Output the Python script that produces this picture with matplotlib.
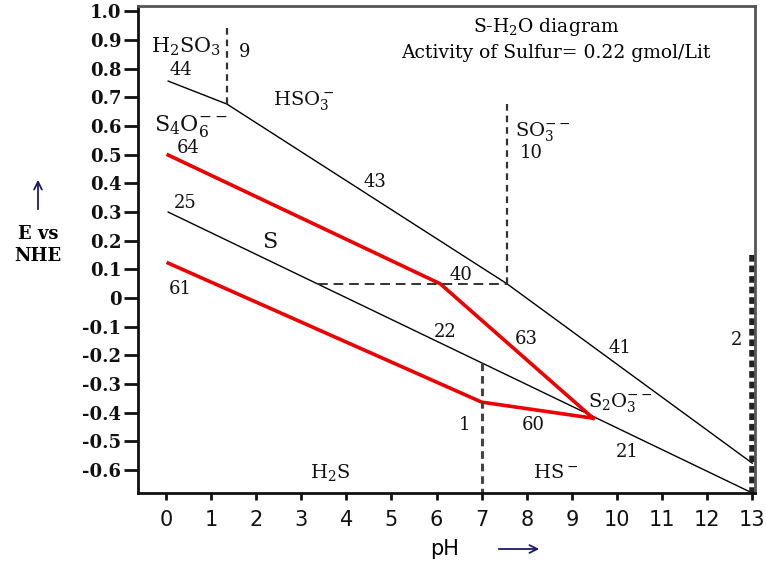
import matplotlib
matplotlib.use("Agg")
import matplotlib.pyplot as plt
import numpy as np

plt.rcParams['mathtext.fontset'] = 'dejavuserif'

# ---- data (pH, E vs NHE) ----
upper_ph = [0.05, 1.35, 7.56, 13.0]          # lines 44 / 43 / 41
upper_e = [0.757, 0.677, 0.05, -0.576]
s_ph = [0.05, 13.0]                          # lines 25 / 22 / 21
s_e = [0.30, -0.68]
red_top_ph = [0.05, 6.08, 9.47]              # lines 64 / 63
red_top_e = [0.499, 0.05, -0.419]
red_bot_ph = [0.05, 7.0, 9.47]               # lines 61 / 60
red_bot_e = [0.122, -0.363, -0.419]

v9_ph = [1.35, 1.35];   v9_e = [0.677, 0.956]
v10_ph = [7.56, 7.56];  v10_e = [0.05, 0.68]
h40_ph = [3.37, 7.56];  h40_e = [0.05, 0.05]
v1_ph = [7.0, 7.0];     v1_e = [-0.227, -0.68]
v2_ph = [13.0, 13.0];   v2_e = [0.15, -0.68]

xticks = list(range(0, 14))
yticks = [1.0, 0.9, 0.8, 0.7, 0.6, 0.5, 0.4, 0.3, 0.2, 0.1, 0.0,
          -0.1, -0.2, -0.3, -0.4, -0.5, -0.6]
ytick_labels = ["1.0", "0.9", "0.8", "0.7", "0.6", "0.5", "0.4", "0.3", "0.2",
                "0.1", "0", "-0.1", "-0.2", "-0.3", "-0.4", "-0.5", "-0.6"]

labels = [
    (r"H$_2$SO$_3$", 0.44, 0.876, 15),
    ("44", 0.33, 0.795, 13),
    ("9", 1.75, 0.858, 13),
    (r"HSO$_3^-$", 3.04, 0.69, 14),
    (r"S$_4$O$_6^{--}$", 0.55, 0.60, 16),
    ("64", 0.49, 0.523, 13),
    ("43", 4.63, 0.405, 13),
    (r"SO$_3^{--}$", 8.36, 0.58, 14),
    ("10", 8.09, 0.506, 13),
    ("25", 0.42, 0.33, 13),
    ("S", 2.3, 0.195, 16),
    ("40", 6.54, 0.08, 13),
    ("61", 0.31, 0.03, 13),
    ("22", 6.19, -0.12, 13),
    ("63", 7.98, -0.143, 13),
    ("41", 10.07, -0.175, 13),
    ("2", 12.66, -0.147, 13),
    (r"S$_2$O$_3^{--}$", 10.07, -0.366, 14),
    ("1", 6.63, -0.443, 13),
    ("60", 8.14, -0.443, 13),
    ("21", 10.22, -0.537, 13),
    (r"H$_2$S", 3.64, -0.61, 14),
    (r"HS$^-$", 8.63, -0.61, 14),
]

serif = "DejaVu Serif"

fig = plt.figure(figsize=(7.66, 5.62), dpi=100)
ax = fig.add_axes([138 / 766, 1 - 493 / 562, (755 - 138) / 766, (493 - 6) / 562])
ax.set_xlim(-0.62, 13.06)
ax.set_ylim(-0.68, 1.019)

ax.plot(upper_ph, upper_e, color="black", lw=1.0)
ax.plot(s_ph, s_e, color="black", lw=1.0)
ax.plot(red_top_ph, red_top_e, color="#ee0000", lw=2.6, solid_joinstyle="miter")
ax.plot(red_bot_ph, red_bot_e, color="#ee0000", lw=2.6, solid_joinstyle="miter")

dash = dict(color="#333333", lw=1.6, linestyle=(0, (3, 2.2)))
ax.plot(v9_ph, v9_e, **dash)
ax.plot(v10_ph, v10_e, **dash)
ax.plot(h40_ph, h40_e, color="#333333", lw=1.4, linestyle=(0, (5, 3)))
ax.plot(v1_ph, v1_e, color="#444444", lw=2.2, linestyle=(0, (2.5, 1.6)))
ax.plot(v2_ph, v2_e, color="#222222", lw=4.0, linestyle=(0, (1.2, 0.7)), clip_on=False)

for txt, x, y, fs in labels:
    ax.text(x, y, txt, ha="center", va="center", fontsize=fs, family=serif,
            color="#111111")

# spines
for side in ("left", "bottom"):
    ax.spines[side].set_linewidth(2.0)
    ax.spines[side].set_color("#111111")
for side in ("top", "right"):
    ax.spines[side].set_linewidth(2.0)
    ax.spines[side].set_color("#555555")

ax.set_xticks(xticks)
ax.set_xticklabels([str(v) for v in xticks], fontsize=15, family="DejaVu Sans")
ax.set_yticks(yticks)
ax.set_yticklabels(ytick_labels, fontsize=13, family=serif, fontweight="bold")
ax.tick_params(axis="x", direction="out", length=5, width=2, pad=7, colors="#111111")
ax.tick_params(axis="y", direction="out", length=10, width=2, pad=2, colors="#111111")

# title texts
fig.text(546 / 766, 1 - 27 / 562, r"S-H$_2$O diagram", ha="center", va="center",
         fontsize=13.5, family=serif)
fig.text(556 / 766, 1 - 53 / 562, "Activity of Sulfur= 0.22 gmol/Lit", ha="center",
         va="center", fontsize=13.5, family=serif)

# axis labels
fig.text(445 / 766, 1 - 549 / 562, "pH", ha="center", va="center", fontsize=15,
         family="DejaVu Sans")
fig.patches.append(matplotlib.patches.FancyArrowPatch(
    (496 / 766, 1 - 549 / 562), (542 / 766, 1 - 549 / 562), transform=fig.transFigure,
    arrowstyle="->", mutation_scale=14, lw=1.3, color="#1a1a6a"))
fig.text(38 / 766, 1 - 234 / 562, "E vs", ha="center", va="center", fontsize=13,
         family=serif, fontweight="bold")
fig.text(38 / 766, 1 - 256 / 562, "NHE", ha="center", va="center", fontsize=13,
         family=serif, fontweight="bold")
fig.patches.append(matplotlib.patches.FancyArrowPatch(
    (38 / 766, 1 - 212 / 562), (38 / 766, 1 - 177 / 562), transform=fig.transFigure,
    arrowstyle="->", mutation_scale=14, lw=1.3, color="#1a1a6a"))

fig.savefig("out.png", dpi=100)
